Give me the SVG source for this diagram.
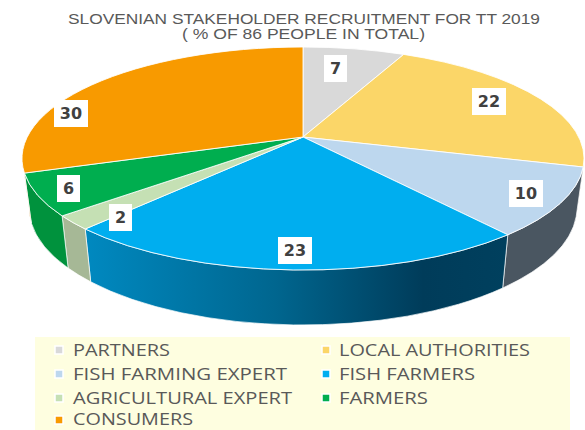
<svg xmlns="http://www.w3.org/2000/svg" width="585" height="430" viewBox="0 0 585 430">
<style>
.t{font-family:"Liberation Sans",Arial,sans-serif;fill:#595959}
.side{stroke:#ffffff;stroke-opacity:0.75;stroke-width:0.9}
.top{stroke:#ffffff;stroke-opacity:0.85;stroke-width:1}
.lb{fill:#ffffff}
.lt{font-family:"DejaVu Sans",sans-serif;font-weight:bold;font-size:16px;fill:#404040;text-anchor:middle}
.lg{font-family:"Open Sans","Liberation Sans",sans-serif;font-size:17px;fill:#595959}
.mk{stroke:#ffffff;stroke-width:1.5}
</style>
<defs>
<linearGradient id="ffSide" gradientUnits="userSpaceOnUse" x1="85" y1="0" x2="508" y2="0">
<stop offset="0" stop-color="#0089C0"/>
<stop offset="0.45" stop-color="#00668F"/>
<stop offset="0.8" stop-color="#003C5A"/>
<stop offset="1" stop-color="#00405E"/>
</linearGradient>
</defs>
<rect width="585" height="430" fill="#ffffff"/>
<g id="title">
<text class="t" x="304" y="23.5" font-size="14" text-anchor="middle" textLength="472" lengthAdjust="spacingAndGlyphs">SLOVENIAN STAKEHOLDER RECRUITMENT FOR TT 2019</text>
<text class="t" x="303.5" y="39" font-size="14" text-anchor="middle" textLength="243" lengthAdjust="spacingAndGlyphs">( % OF 86 PEOPLE IN TOTAL)</text>
</g>
<g id="sides">
<path class="side" fill="#C9A94F" d="M584,158.5 A281,111.5 0 0 1 583.2,167 L576.2,216.6 A274,117.3 0 0 0 577,207.7 Z"/>
<path class="side" fill="#4A5661" d="M583.2,167 A281,111.5 0 0 1 507.8,234.8 L502.7,288 A274,117.3 0 0 0 576.2,216.6 Z"/>
<path class="side" fill="url(#ffSide)" d="M507.8,234.8 A281,111.5 0 0 1 85.2,229 L90.7,281.8 A274,117.3 0 0 0 502.7,288 Z"/>
<path class="side" fill="#A6B896" d="M85.2,229 A281,111.5 0 0 1 62.1,215.9 L68.1,268.1 A274,117.3 0 0 0 90.7,281.8 Z"/>
<path class="side" fill="#00923D" d="M62.1,215.9 A281,111.5 0 0 1 24.4,173.1 L31.3,223 A274,117.3 0 0 0 68.1,268.1 Z"/>
<path class="side" fill="#C67A00" d="M24.4,173.1 A281,111.5 0 0 1 22,158.5 L29,207.7 A274,117.3 0 0 0 31.3,223 Z"/>
</g>
<g id="partners">
<path class="top" fill="#D9D9D9" d="M303,137 L303,47 A281,111.5 0 0 1 403.7,54.4 Z"/>
<rect class="lb" x="324" y="55" width="23" height="27"/>
<text class="lt" x="335.5" y="74.3">7</text>
</g>
<g id="local-authorities">
<path class="top" fill="#FBD668" d="M303,137 L403.7,54.4 A281,111.5 0 0 1 583.2,167 Z"/>
<rect class="lb" x="472" y="88" width="34" height="27"/>
<text class="lt" x="489" y="107.3">22</text>
</g>
<g id="fish-farming-expert">
<path class="top" fill="#BDD7EE" d="M303,137 L583.2,167 A281,111.5 0 0 1 507.8,234.8 Z"/>
<rect class="lb" x="509" y="180" width="34" height="27"/>
<text class="lt" x="526" y="199.3">10</text>
</g>
<g id="fish-farmers">
<path class="top" fill="#00AEEF" d="M303,137 L507.8,234.8 A281,111.5 0 0 1 85.2,229 Z"/>
<rect class="lb" x="278" y="237" width="34" height="27"/>
<text class="lt" x="295" y="256.3">23</text>
</g>
<g id="agricultural-expert">
<path class="top" fill="#C5E0B4" d="M303,137 L85.2,229 A281,111.5 0 0 1 62.1,215.9 Z"/>
<rect class="lb" x="109" y="204" width="23" height="27"/>
<text class="lt" x="120.5" y="223.3">2</text>
</g>
<g id="farmers">
<path class="top" fill="#00AE4F" d="M303,137 L62.1,215.9 A281,111.5 0 0 1 24.4,173.1 Z"/>
<rect class="lb" x="57" y="175" width="23" height="27"/>
<text class="lt" x="68.5" y="194.3">6</text>
</g>
<g id="consumers">
<path class="top" fill="#F89A00" d="M303,137 L24.4,173.1 A281,111.5 0 0 1 303,47 Z"/>
<rect class="lb" x="54" y="100" width="34" height="27"/>
<text class="lt" x="71" y="119.3">30</text>
</g>
<g id="connectors"></g>
<g id="legend">
<rect x="35" y="337" width="535" height="93" fill="#FEFEE0"/>
<rect class="mk" x="55" y="346" width="8" height="8" fill="#D9D9D9"/>
<text class="lg" x="73" y="356" textLength="97" lengthAdjust="spacingAndGlyphs">PARTNERS</text>
<rect class="mk" x="55" y="370" width="8" height="8" fill="#BDD7EE"/>
<text class="lg" x="73" y="380" textLength="214" lengthAdjust="spacingAndGlyphs">FISH FARMING EXPERT</text>
<rect class="mk" x="55" y="394" width="8" height="8" fill="#C5E0B4"/>
<text class="lg" x="73" y="404" textLength="219" lengthAdjust="spacingAndGlyphs">AGRICULTURAL EXPERT</text>
<rect class="mk" x="55" y="416" width="8" height="8" fill="#F89A00"/>
<text class="lg" x="73" y="425" textLength="120" lengthAdjust="spacingAndGlyphs">CONSUMERS</text>
<rect class="mk" x="322" y="346" width="8" height="8" fill="#FBD668"/>
<text class="lg" x="339" y="356" textLength="191" lengthAdjust="spacingAndGlyphs">LOCAL AUTHORITIES</text>
<rect class="mk" x="322" y="370" width="8" height="8" fill="#00AEEF"/>
<text class="lg" x="339" y="380" textLength="136" lengthAdjust="spacingAndGlyphs">FISH FARMERS</text>
<rect class="mk" x="322" y="394" width="8" height="8" fill="#00AE4F"/>
<text class="lg" x="339" y="404" textLength="89" lengthAdjust="spacingAndGlyphs">FARMERS</text>
</g>
</svg>
